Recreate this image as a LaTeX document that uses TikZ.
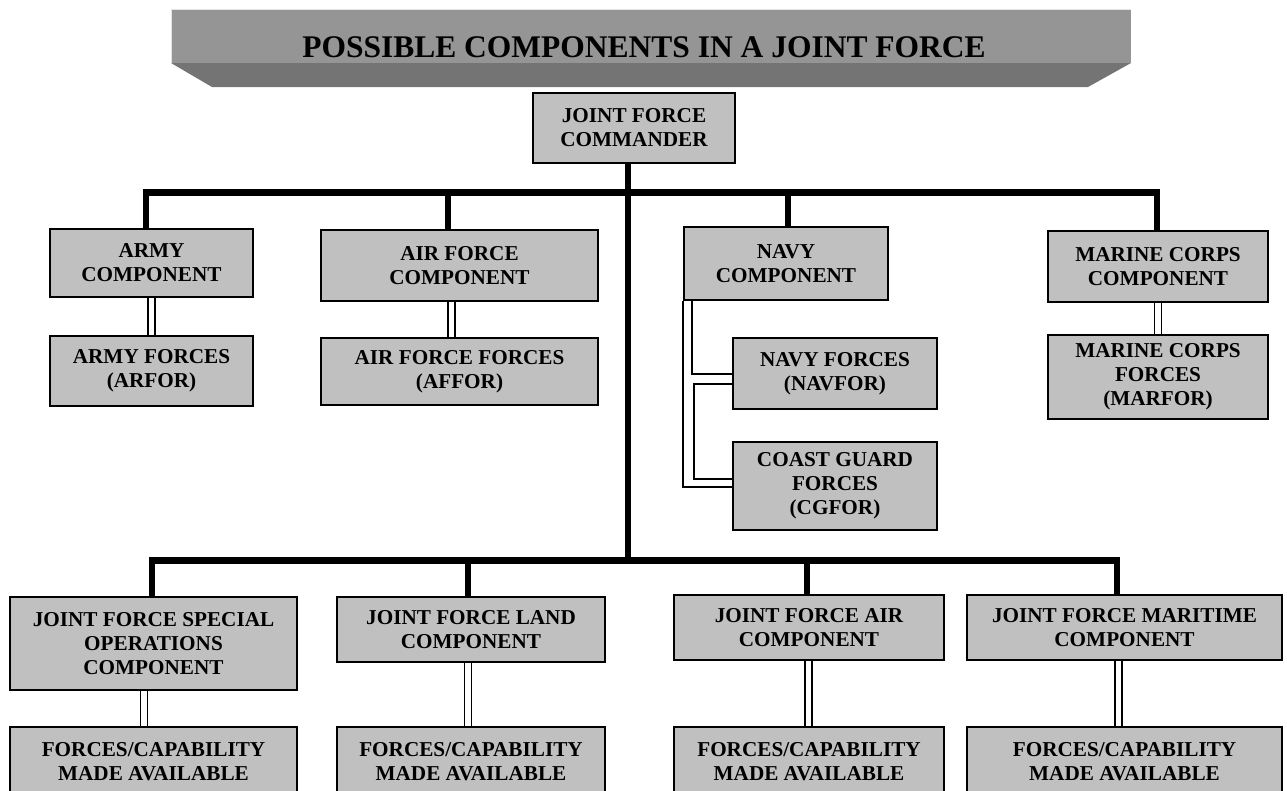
\documentclass[tikz,border=0pt]{standalone}
\usepackage{fontspec}
\setmainfont{Liberation Serif}
\usetikzlibrary{calc}
\definecolor{boxgray}{RGB}{192,192,192}
\definecolor{facegray}{RGB}{149,149,149}
\definecolor{bevelgray}{RGB}{116,116,116}
\begin{document}
\begin{tikzpicture}[x=1pt,y=-1pt,
  box/.style={draw=black, line width=1.8pt, fill=boxgray, inner sep=0pt, align=center,
    font=\fontsize{21.2}{24}\selectfont\bfseries},
  bus/.style={line width=6.5pt, line join=miter},
  fine/.style={line width=1.5pt},
  dbl/.style={double, double distance=5.5pt, line width=1.5pt}]
\useasboundingbox (0,0) rectangle (1287,790);
\clip (0,0) rectangle (1287,790);
% banner
\fill[facegray] (171,9) rectangle (1131,63);
\fill[bevelgray] (171,63) -- (1131,63) -- (1088,87) -- (212,87) -- cycle;
\draw[white!75!facegray, line width=1pt] (171.5,63) -- (171.5,9.5) -- (1131,9.5);
\node[font=\fontsize{31.5}{36}\selectfont\bfseries, inner sep=0pt] (title) at (644,47) {POSSIBLE COMPONENTS IN A JOINT FORCE};
% boxes
\node[box, minimum width=202pt, minimum height=70pt] (jfc) at (634,128) {JOINT FORCE\\COMMANDER};
\node[box, minimum width=203pt, minimum height=68pt] (army) at (151.5,263) {ARMY\\COMPONENT};
\node[box, minimum width=203pt, minimum height=70pt] (armyf) at (151.5,371) {ARMY FORCES\\(ARFOR)};
\node[box, minimum width=277pt, minimum height=71pt] (af) at (459.5,265.5) {AIR FORCE\\COMPONENT};
\node[box, minimum width=277pt, minimum height=67pt] (aff) at (459.5,371.5) {AIR FORCE FORCES\\(AFFOR)};
\node[box, minimum width=204pt, minimum height=73pt] (navy) at (786,263.5) {NAVY\\COMPONENT};
\node[box, minimum width=204pt, minimum height=71pt] (nf) at (835,373.5) {NAVY FORCES\\(NAVFOR)};
\node[box, minimum width=204pt, minimum height=88pt] (cg) at (835,486) {COAST GUARD\\FORCES\\(CGFOR)};
\node[box, minimum width=220pt, minimum height=71pt] (mar) at (1158,266.5) {MARINE CORPS\\COMPONENT};
\node[box, minimum width=220pt, minimum height=84pt] (marf) at (1158,377) {MARINE CORPS\\FORCES\\(MARFOR)};
\node[box, minimum width=287pt, minimum height=93pt] (jfsoc) at (153.5,643.5) {JOINT FORCE SPECIAL\\OPERATIONS\\COMPONENT};
\node[box, minimum width=268pt, minimum height=65pt] (jflc) at (471,629.5) {JOINT FORCE LAND\\COMPONENT};
\node[box, minimum width=270pt, minimum height=65pt] (jfac) at (809,627.5) {JOINT FORCE AIR\\COMPONENT};
\node[box, minimum width=315pt, minimum height=65pt] (jfmc) at (1124.5,627.5) {JOINT FORCE MARITIME\\COMPONENT};
\node[box, minimum width=287pt, minimum height=70pt] (fsoc) at (153.5,762) {FORCES/CAPABILITY\\MADE AVAILABLE};
\node[box, minimum width=268pt, minimum height=70pt] (flc) at (471,762) {FORCES/CAPABILITY\\MADE AVAILABLE};
\node[box, minimum width=270pt, minimum height=70pt] (fac) at (809,762) {FORCES/CAPABILITY\\MADE AVAILABLE};
\node[box, minimum width=315pt, minimum height=70pt] (fmc) at (1124.5,762) {FORCES/CAPABILITY\\MADE AVAILABLE};
% buses
\coordinate (tb) at (628,192.5);
\coordinate (bb) at (628,560.5);
\draw[bus] ($(army.north)+(-5.5,0)$) |- (tb) -| ($(mar.north)+(-1,0)$);
\draw[bus] ($(af.north)+(-11.5,0)$) |- (tb);
\draw[bus] ($(navy.north)+(2,0)$) |- (tb);
\draw[bus] (jfc.south -| tb) -- (bb);
\draw[bus] ($(jfsoc.north)+(-1.5,0)$) |- (bb) -| ($(jfmc.north)+(-7.5,0)$);
\draw[bus] ($(jflc.north)+(-3,0)$) |- (bb);
\draw[bus] ($(jfac.north)+(-2,0)$) |- (bb);
% double links
\draw[dbl] (army.south) -- (armyf.north);
\draw[dbl] ($(af.south)+(-8,0)$) -- ($(aff.north)+(-8,0)$);
\draw[dbl] (mar.south) -- (marf.north);
\draw[dbl] ($(jfsoc.south)+(-9.5,0)$) -- ($(fsoc.north)+(-9.5,0)$);
\draw[dbl] ($(jflc.south)+(-3,0)$) -- ($(flc.north)+(-3,0)$);
\draw[dbl] ($(jfac.south)+(-0.5,0)$) -- ($(fac.north)+(-0.5,0)$);
\draw[dbl] ($(jfmc.south)+(-6,0)$) -- ($(fmc.north)+(-6,0)$);
% navy links
\draw[fine] (navy.south west) |- ($(cg.west)+(0,1)$);
\draw[fine] ($(navy.south west)+(9,0)$) |- ($(nf.west)+(0,0.5)$);
\draw[fine] ($(nf.west)+(0,10.5)$) -- ++(-38,0) |- ($(cg.west)+(0,-7)$);
\end{tikzpicture}
\end{document}
